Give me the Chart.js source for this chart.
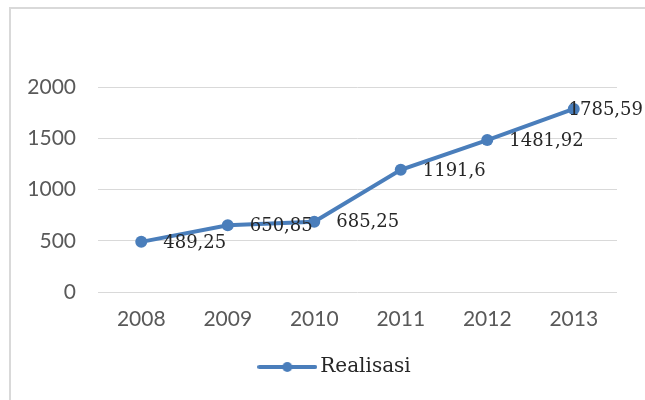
<!DOCTYPE html>
<html>
<head>
<meta charset="utf-8">
<script src="https://cdn.jsdelivr.net/npm/chart.js@4"></script>
<style>
  html, body { margin: 0; padding: 0; background: #fff; overflow: hidden; }
  #wrap { position: relative; width: 645px; height: 400px; overflow: hidden; }
  #frame { position: absolute; left: 9px; top: 7px; width: 700px; height: 500px; border: 2px solid #d9d9d9; box-sizing: border-box; }
  canvas { position: absolute; left: 0; top: 0; }
</style>
</head>
<body>
<div id="wrap">
  <div id="frame"></div>
  <canvas id="realisasiChart" width="645" height="400"></canvas>
</div>
<script>
// Yearly realisation figures
const years = ['2008', '2009', '2010', '2011', '2012', '2013'];
const realisasi = [489.25, 650.85, 685.25, 1191.6, 1481.92, 1785.59];
const seriesName = 'Realisasi';
const yMin = 0;
const yMax = 2000;
const yStep = 500;

const lineColor = '#4a7ebb';

// Legend swatch: short line with a dot in the middle
const legendIcon = document.createElement('canvas');
legendIcon.width = 60;
legendIcon.height = 14;
const ic = legendIcon.getContext('2d');
ic.strokeStyle = lineColor;
ic.fillStyle = lineColor;
ic.lineWidth = 4;
ic.lineCap = 'round';
ic.beginPath();
ic.moveTo(2, 7);
ic.lineTo(58, 7);
ic.stroke();
ic.beginPath();
ic.arc(30, 7, 5, 0, Math.PI * 2);
ic.fill();

// Values written to the right of each point, comma as decimal mark
const valueLabels = {
  id: 'valueLabels',
  afterDatasetsDraw(chart) {
    const ctx = chart.ctx;
    const meta = chart.getDatasetMeta(0);
    ctx.save();
    ctx.font = '18px "DejaVu Serif"';
    ctx.fillStyle = '#262626';
    ctx.textBaseline = 'middle';
    ctx.textAlign = 'left';
    meta.data.forEach((pt, i) => {
      const text = String(realisasi[i]).replace('.', ',');
      const w = ctx.measureText(text).width;
      let x = pt.x + 22;
      if (x + w > chart.width - 2) {
        x = chart.width - 2 - w;
      }
      ctx.fillText(text, x, pt.y + 1);
    });
    ctx.restore();
  }
};

// Nudge the legend a little right of the canvas centre
const legendShift = {
  id: 'legendShift',
  afterLayout(chart) {
    const lg = chart.legend;
    if (!lg) return;
    lg.left += 29;
    lg.right += 29;
  }
};

const ctx = document.getElementById('realisasiChart');

window.realisasiChart = new Chart(ctx, {
  type: 'line',
  data: {
    labels: years,
    datasets: [{
      label: seriesName,
      data: realisasi,
      borderColor: lineColor,
      backgroundColor: lineColor,
      borderWidth: 4,
      pointRadius: 6,
      pointBackgroundColor: lineColor,
      pointBorderWidth: 0,
      tension: 0
    }]
  },
  options: {
    responsive: false,
    animation: false,
    layout: {
      padding: { left: 0, right: 28, top: 87, bottom: 13 }
    },
    plugins: {
      tooltip: { enabled: false },
      legend: {
        display: true,
        position: 'bottom',
        labels: {
          usePointStyle: true,
          pointStyle: legendIcon,
          pointStyleWidth: 46,
          padding: 21,
          color: '#262626',
          font: { family: 'DejaVu Serif', size: 20 }
        }
      }
    },
    scales: {
      x: {
        offset: true,
        grid: { display: false, drawTicks: false },
        border: { display: false },
        ticks: {
          padding: 15,
          color: '#595959',
          font: { family: 'Lato', size: 21 }
        },
        afterFit: (scale) => { scale.height = 44; }
      },
      y: {
        min: yMin,
        max: yMax,
        grid: { color: '#d9d9d9', lineWidth: 1, drawTicks: false },
        border: { display: false },
        ticks: {
          stepSize: yStep,
          padding: 22,
          color: '#595959',
          font: { family: 'Lato', size: 21 },
          callback: (value) => String(value)
        },
        afterFit: (scale) => { scale.width = 98; }
      }
    }
  },
  plugins: [valueLabels, legendShift]
});
</script>
</body>
</html>
